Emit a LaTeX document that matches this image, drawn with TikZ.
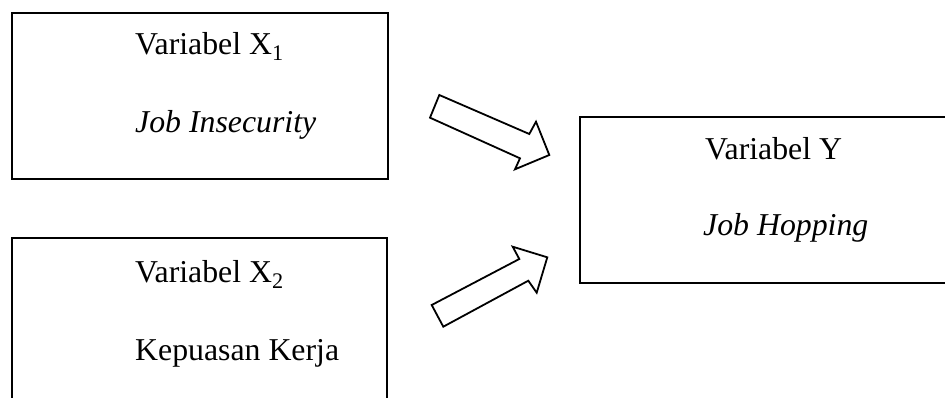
\documentclass[tikz,border=0pt]{standalone}
\usepackage{fontspec}
\setmainfont{Liberation Serif}
\begin{document}
\begin{tikzpicture}[x=1pt,y=-1pt,
  box/.style={draw=black,line width=2.4pt,rectangle,inner sep=0pt},
  lbl/.style={anchor=base west,inner sep=0pt,font=\fontsize{31.8}{36}\selectfont},
  blockarrow/.style={draw=black,line width=1.8pt,fill=white,line join=miter}]
\useasboundingbox (0,0) rectangle (945,397);
\clip (0,0) rectangle (945,397);
% boxes
\node[box,minimum width=376pt,minimum height=166pt] (x1) at (200,96) {};
\node[box,minimum width=375pt,minimum height=170pt] (x2) at (199.5,323) {};
\node[box,minimum width=390pt,minimum height=166pt] (y) at (775,200) {};
% texts
\node[lbl] (x1a) at (135,54) {Variabel X\textsubscript{1}};
\node[lbl] (x1b) at (135,132) {\itshape Job Insecurity};
\node[lbl] (x2a) at (135,282) {Variabel X\textsubscript{2}};
\node[lbl] (x2b) at (135,360) {Kepuasan Kerja};
\node[lbl] (ya) at (705,159) {Variabel Y};
\node[lbl] (yb) at (703,235) {\itshape Job Hopping};
% block arrows
\draw[blockarrow] (439.3,95) -- (529.3,134) -- (536,121.7) -- (549.3,155)
  -- (515,169.3) -- (520,158.3) -- (430,117.7) -- cycle;
\draw[blockarrow] (431.7,305) -- (519.3,259) -- (512.7,246.7) -- (547.3,257.3)
  -- (536.7,292.7) -- (528.3,280.7) -- (443.3,326.7) -- cycle;
\end{tikzpicture}
\end{document}
